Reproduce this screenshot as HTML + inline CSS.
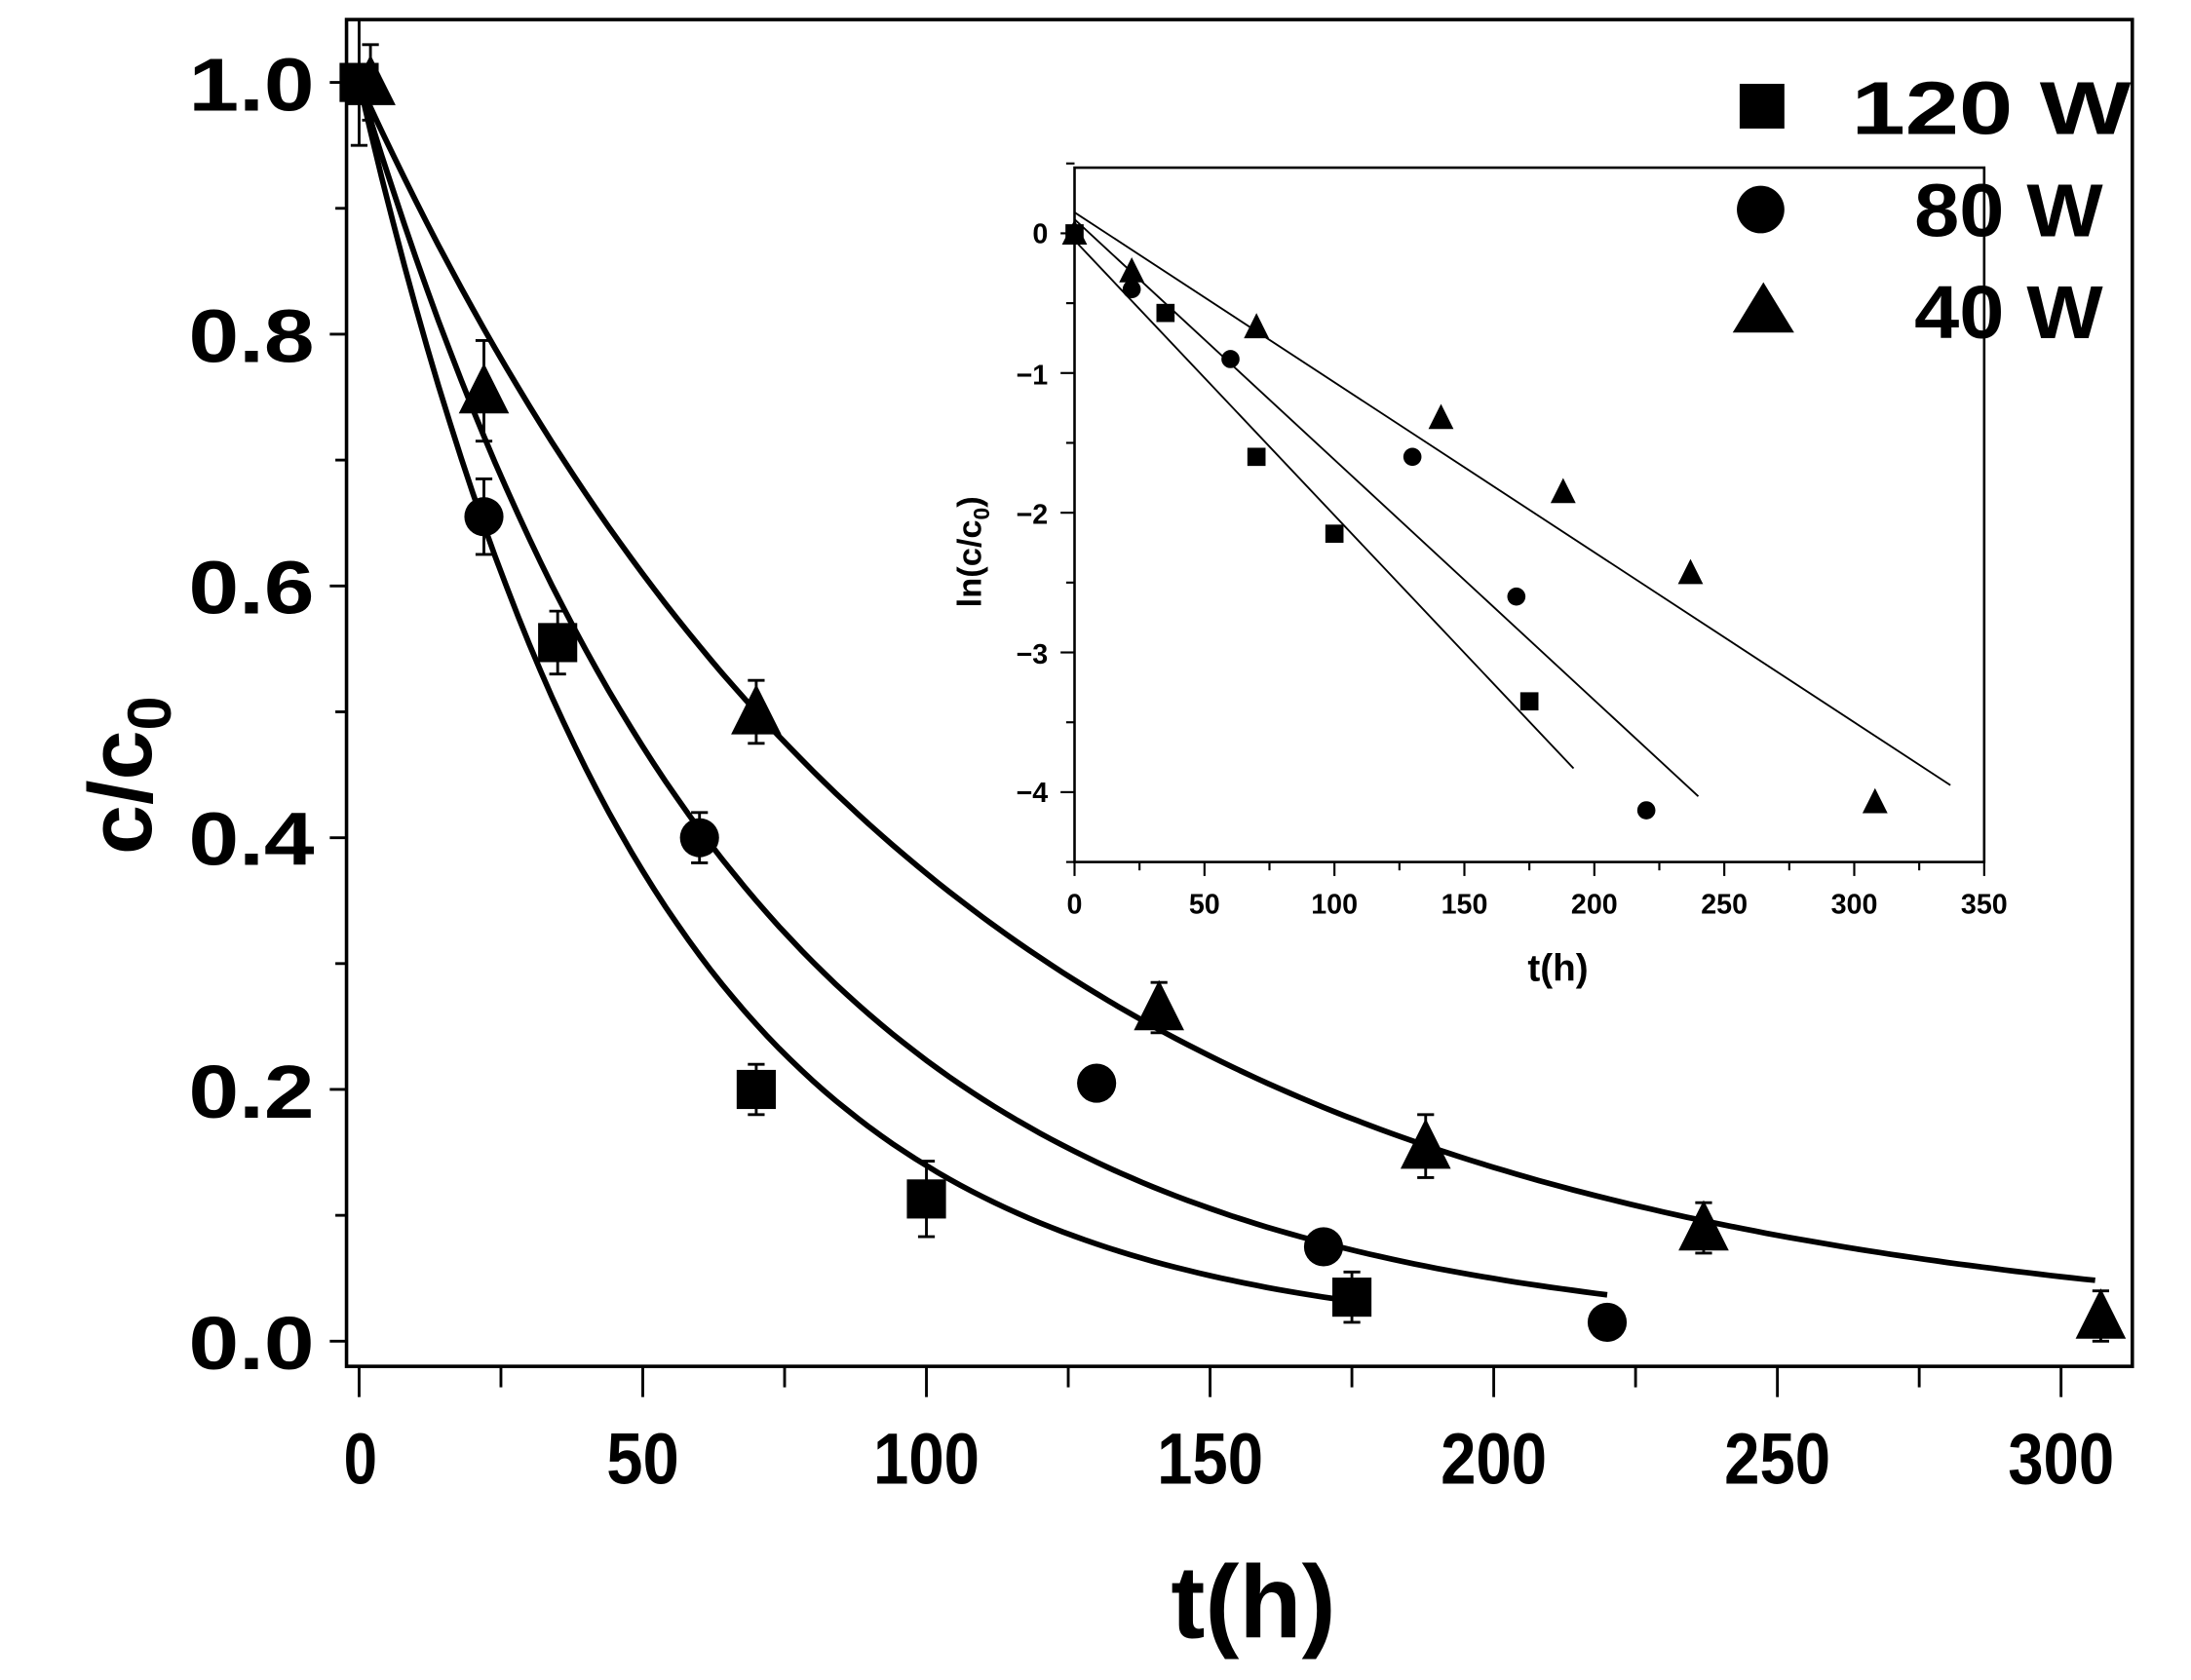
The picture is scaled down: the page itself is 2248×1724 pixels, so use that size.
<!DOCTYPE html>
<html><head><meta charset="utf-8"><style>
html,body{margin:0;padding:0;background:#fff}
svg{display:block}
text{font-family:"Liberation Sans",Arial,sans-serif;font-weight:bold;fill:#000}
</style></head><body>
<svg id="s" width="2248" height="1724" viewBox="0 0 1568 1202.5" xmlns="http://www.w3.org/2000/svg">
<rect x="248" y="14" width="1278" height="964" fill="none" stroke="#000" stroke-width="2.5"/>
<g font-size="54" lengthAdjust="spacingAndGlyphs">
<text x="135" y="79" textLength="90" lengthAdjust="spacingAndGlyphs">1.0</text>
<text x="135" y="259" textLength="90" lengthAdjust="spacingAndGlyphs">0.8</text>
<text x="135" y="439" textLength="90" lengthAdjust="spacingAndGlyphs">0.6</text>
<text x="135" y="619" textLength="90" lengthAdjust="spacingAndGlyphs">0.4</text>
<text x="135" y="800" textLength="90" lengthAdjust="spacingAndGlyphs">0.2</text>
<text x="135" y="980" textLength="90" lengthAdjust="spacingAndGlyphs">0.0</text>
</g>
<g font-size="52">
<text x="246" y="1062" textLength="24" lengthAdjust="spacingAndGlyphs">0</text>
<text x="434" y="1062" textLength="52" lengthAdjust="spacingAndGlyphs">50</text>
<text x="625" y="1062" textLength="76" lengthAdjust="spacingAndGlyphs">100</text>
<text x="828" y="1062" textLength="76" lengthAdjust="spacingAndGlyphs">150</text>
<text x="1031" y="1062" textLength="76" lengthAdjust="spacingAndGlyphs">200</text>
<text x="1234" y="1062" textLength="76" lengthAdjust="spacingAndGlyphs">250</text>
<text x="1437" y="1062" textLength="76" lengthAdjust="spacingAndGlyphs">300</text>
</g>
<text x="838" y="1172" font-size="74" textLength="118" lengthAdjust="spacingAndGlyphs">t(h)</text>
<text transform="translate(108,555) rotate(-90)" font-size="64" text-anchor="middle">c/c<tspan font-size="44" dy="14">0</tspan></text>
<rect x="1245" y="60" width="32" height="32" fill="#000"/>
<text x="1325" y="96" font-size="54" textLength="200" lengthAdjust="spacingAndGlyphs">120 W</text>
<circle cx="1260" cy="150" r="17" fill="#000"/>
<text x="1370" y="169" font-size="54" textLength="135" lengthAdjust="spacingAndGlyphs">80 W</text>
<polygon points="1262,202 1284,238 1240,238" fill="#000"/>
<text x="1370" y="242" font-size="54" textLength="135" lengthAdjust="spacingAndGlyphs">40 W</text>
<rect x="769" y="120" width="651" height="497" fill="none" stroke="#000" stroke-width="1.8"/>
<g font-size="20" text-anchor="end">
<text x="750" y="174">0</text>
<text x="750" y="275">−1</text>
<text x="750" y="375">−2</text>
<text x="750" y="475">−3</text>
<text x="750" y="574">−4</text>
</g>
<g font-size="20" text-anchor="middle">
<text x="769" y="654">0</text>
<text x="862" y="654">50</text>
<text x="955" y="654">100</text>
<text x="1048" y="654">150</text>
<text x="1141" y="654">200</text>
<text x="1234" y="654">250</text>
<text x="1327" y="654">300</text>
<text x="1420" y="654">350</text>
</g>
<text x="1115" y="702" font-size="27" text-anchor="middle">t(h)</text>
<text transform="translate(702,395) rotate(-90)" font-size="24" text-anchor="middle">ln(c/c<tspan font-size="16" dy="6">0</tspan><tspan dy="-6">)</tspan></text>
<g id="g"></g>
</svg>
<script>
var g=document.getElementById('g'),h='';
function X(t){return 257+4.06*t}function Y(c){return 960-901*c}
function x(t){return 769+1.86*t}function y(v){return 167-100*v}
for(var i=0;i<=10;i++){var yy=Y(i*0.1);h+='<line x1="'+(i%2?240:236)+'" x2="248" y1="'+yy+'" y2="'+yy+'" stroke="#000" stroke-width="2"/>';}
for(var t=0;t<=300;t+=25){var xx=X(t);h+='<line x1="'+xx+'" x2="'+xx+'" y1="978" y2="'+(t%50?993:1000)+'" stroke="#000" stroke-width="2"/>';}
[[0.0197,175],[0.015,220],[0.0099,307]].forEach(function(p){var d='';for(var t=0;t<=p[1];t+=2){d+=(t?'L':'M')+X(t).toFixed(1)+','+Y(Math.exp(-p[0]*t)).toFixed(1);}h+='<path d="'+d+'" fill="none" stroke="#000" stroke-width="4"/>';});
function eb(t,c,e){h+='<line x1="'+X(t)+'" x2="'+X(t)+'" y1="'+Y(c+e)+'" y2="'+Y(c-e)+'" stroke="#000" stroke-width="2"/><line x1="'+(X(t)-6)+'" x2="'+(X(t)+6)+'" y1="'+Y(c+e)+'" y2="'+Y(c+e)+'" stroke="#000" stroke-width="2"/><line x1="'+(X(t)-6)+'" x2="'+(X(t)+6)+'" y1="'+Y(c-e)+'" y2="'+Y(c-e)+'" stroke="#000" stroke-width="2"/>';}
function sq(cx,cy,s){h+='<rect x="'+(cx-s/2)+'" y="'+(cy-s/2)+'" width="'+s+'" height="'+s+'" fill="#000"/>';}
function ci(cx,cy,r){h+='<circle cx="'+cx+'" cy="'+cy+'" r="'+r+'" fill="#000"/>';}
function tr(cx,cy,s){h+='<polygon points="'+cx+','+(cy-s*0.55)+' '+(cx+s/2)+','+(cy+s*0.45)+' '+(cx-s/2)+','+(cy+s*0.45)+'" fill="#000"/>';}
[[0,1,0.05],[35,0.555,0.025],[70,0.2,0.02],[100,0.113,0.03],[175,0.035,0.02]].forEach(function(p){eb(p[0],p[1],p[2]);sq(X(p[0]),Y(p[1]),28);});
[[22,0.655,0.03],[60,0.4,0.02],[130,0.205,0.01],[170,0.075,0.01],[220,0.015,0.01]].forEach(function(p){eb(p[0],p[1],p[2]);ci(X(p[0]),Y(p[1]),14);});
[[2,1,0.03],[22,0.755,0.04],[70,0.5,0.025],[141,0.265,0.02],[188,0.155,0.025],[237,0.09,0.02],[307,0.02,0.02]].forEach(function(p){eb(p[0],p[1],p[2]);tr(X(p[0]),Y(p[1]),36);});
for(var v=0.5;v>=-4.5;v-=0.5){var yy=y(v);h+='<line x1="'+(Math.abs(v%1)?763:759)+'" x2="769" y1="'+yy+'" y2="'+yy+'" stroke="#000" stroke-width="1.5"/>';}
for(var t=0;t<=350;t+=25){var xx=x(t);h+='<line x1="'+xx+'" x2="'+xx+'" y1="617" y2="'+(t%50?623:627)+'" stroke="#000" stroke-width="1.5"/>';}
[[-0.05,192,-3.83],[0.1,240,-4.03],[0.15,337,-3.95]].forEach(function(p){h+='<line x1="'+x(0)+'" y1="'+y(p[0])+'" x2="'+x(p[1])+'" y2="'+y(p[2])+'" stroke="#000" stroke-width="1.3"/>';});
[[0,0],[35,-0.57],[70,-1.6],[100,-2.15],[175,-3.35]].forEach(function(p){sq(x(p[0]),y(p[1]),13);});
[[22,-0.4],[60,-0.9],[130,-1.6],[170,-2.6],[220,-4.13]].forEach(function(p){ci(x(p[0]),y(p[1]),6.5);});
[[0,0],[22,-0.27],[70,-0.67],[141,-1.32],[188,-1.85],[237,-2.43],[308,-4.07]].forEach(function(p){tr(x(p[0]),y(p[1]),18);});
g.innerHTML=h;
</script>
</body></html>
